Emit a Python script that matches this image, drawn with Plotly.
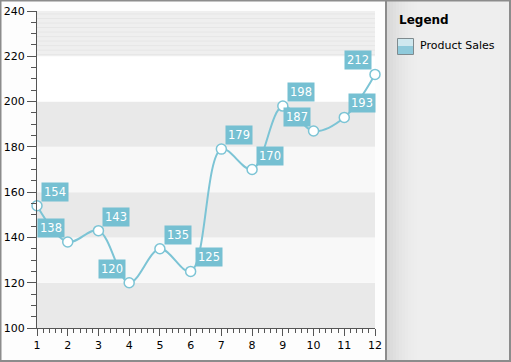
import plotly.graph_objects as go

# ---- data ----
months = [1, 2, 3, 4, 5, 6, 7, 8, 9, 10, 11, 12]
sales = [154, 138, 143, 120, 135, 125, 179, 170, 198, 187, 193, 212]
series_name = "Product Sales"
legend_title = "Legend"

# ---- styling ----
W, H = 511, 362
L, R, T, B = 37, 136, 11, 34
PW, PH = W - L - R, H - T - B
label_side = ["r", "l", "r", "l", "r", "r", "r", "r", "r", "l", "r", "l"]
teal = "#76c0d2"


def px(x):
    return (x - L) / PW


def py(y):
    return 1 - (y - T) / PH


fig = go.Figure()
fig.add_trace(go.Scatter(
    x=months, y=sales, mode="lines+markers", name=series_name,
    line=dict(color="#7cc4d5", width=2, shape="spline", smoothing=1.0),
    marker=dict(size=10, color="white", line=dict(color="#7cc4d5", width=1.5)),
    showlegend=False, cliponaxis=False,
))

shapes = []
# horizontal bands
bands = [(100, 120, "#e9e9e9"), (120, 140, "#f8f8f8"), (140, 160, "#e9e9e9"),
         (160, 180, "#f8f8f8"), (180, 200, "#e9e9e9"), (200, 220, "#ffffff"),
         (220, 240, "#efefef")]
for y0, y1, c in bands:
    shapes.append(dict(type="rect", xref="x", yref="y", x0=1, x1=12, y0=y0, y1=y1,
                       fillcolor=c, line=dict(width=0), layer="below"))
# stripes in the top band
for i in range(10):
    yy = 220.7 + i * 2
    shapes.append(dict(type="line", xref="x", yref="y", x0=1, x1=12, y0=yy, y1=yy,
                       line=dict(color="#e6e6e6", width=1), layer="below"))

# legend panel with gradient
x0p = 386
shapes.append(dict(type="rect", xref="paper", yref="paper", x0=px(x0p), x1=px(W), y0=py(H), y1=py(0),
                   fillcolor="#eeeeee", line=dict(width=0), layer="below"))
grad = ["#d9d9d9", "#dcdcdc", "#dfdfdf", "#e2e2e2", "#e5e5e5", "#e7e7e7", "#e9e9e9", "#ebebeb", "#ececec", "#ededed"]
for i, c in enumerate(grad):
    shapes.append(dict(type="rect", xref="paper", yref="paper", x0=px(x0p + 1 + i * 3), x1=px(x0p + 4 + i * 3),
                       y0=py(H), y1=py(0), fillcolor=c, line=dict(width=0), layer="below"))
shapes.append(dict(type="line", xref="paper", yref="paper", x0=px(x0p), x1=px(x0p), y0=py(H), y1=py(0),
                   line=dict(color="#8c8c8c", width=2)))
# outer border
shapes.append(dict(type="rect", xref="paper", yref="paper", x0=px(0.5), x1=px(W - 1), y0=py(H - 1), y1=py(0.5),
                   line=dict(color="#8c8c8c", width=2), fillcolor="rgba(0,0,0,0)"))
# legend icon
shapes.append(dict(type="rect", xref="paper", yref="paper", x0=px(398), x1=px(413), y0=py(54), y1=py(46),
                   fillcolor="#8fcadb", line=dict(width=0)))
shapes.append(dict(type="rect", xref="paper", yref="paper", x0=px(398), x1=px(413), y0=py(46), y1=py(39),
                   fillcolor="#cfe8ef", line=dict(width=0)))
shapes.append(dict(type="rect", xref="paper", yref="paper", x0=px(397.5), x1=px(413.5), y0=py(54.5), y1=py(38.5),
                   fillcolor="rgba(0,0,0,0)", line=dict(color="#7f8a8e", width=1)))

annotations = []
for x, y, s in zip(months, sales, label_side):
    annotations.append(dict(
        x=x, y=y, xref="x", yref="y", text=str(y), showarrow=False,
        xanchor="left" if s == "r" else "right", yanchor="bottom",
        xshift=4 if s == "r" else -3, yshift=4,
        bgcolor=teal, borderpad=2,
        font=dict(family="DejaVu Sans", size=11.5, color="white"),
    ))
annotations.append(dict(x=px(397), y=py(20), xref="paper", yref="paper", text="<b>" + legend_title + "</b>",
                        showarrow=False, xanchor="left", yanchor="middle",
                        font=dict(family="DejaVu Sans", size=12, color="black")))
annotations.append(dict(x=px(418), y=py(46), xref="paper", yref="paper", text=series_name,
                        showarrow=False, xanchor="left", yanchor="middle",
                        font=dict(family="DejaVu Sans", size=11, color="black")))

fig.update_layout(
    width=W, height=H, margin=dict(l=L, r=R, t=T, b=B, autoexpand=False),
    paper_bgcolor="#fdfdfd", plot_bgcolor="#ffffff",
    shapes=shapes, annotations=annotations,
    font=dict(family="DejaVu Sans", size=11, color="black"),
)
fig.update_xaxes(range=[1, 12], dtick=1, tick0=1, showgrid=False, zeroline=False, automargin=False,
                 showline=True, linecolor="#555555", linewidth=1,
                 ticks="outside", ticklen=7, tickcolor="#555555",
                 minor=dict(dtick=0.2, ticks="outside", ticklen=4, tickcolor="#555555", showgrid=False),
                 tickfont=dict(family="DejaVu Sans", size=11))
fig.update_yaxes(range=[100, 240], dtick=20, tick0=100, showgrid=False, zeroline=False, automargin=False,
                 showline=True, linecolor="#555555", linewidth=1,
                 ticks="outside", ticklen=9, tickcolor="#555555",
                 minor=dict(dtick=5, ticks="outside", ticklen=5, tickcolor="#555555", showgrid=False),
                 tickfont=dict(family="DejaVu Sans", size=11))

fig.write_html("out.html", config={"displayModeBar": False},
               post_script="document.body.style.margin='0';document.body.style.overflow='hidden';")
